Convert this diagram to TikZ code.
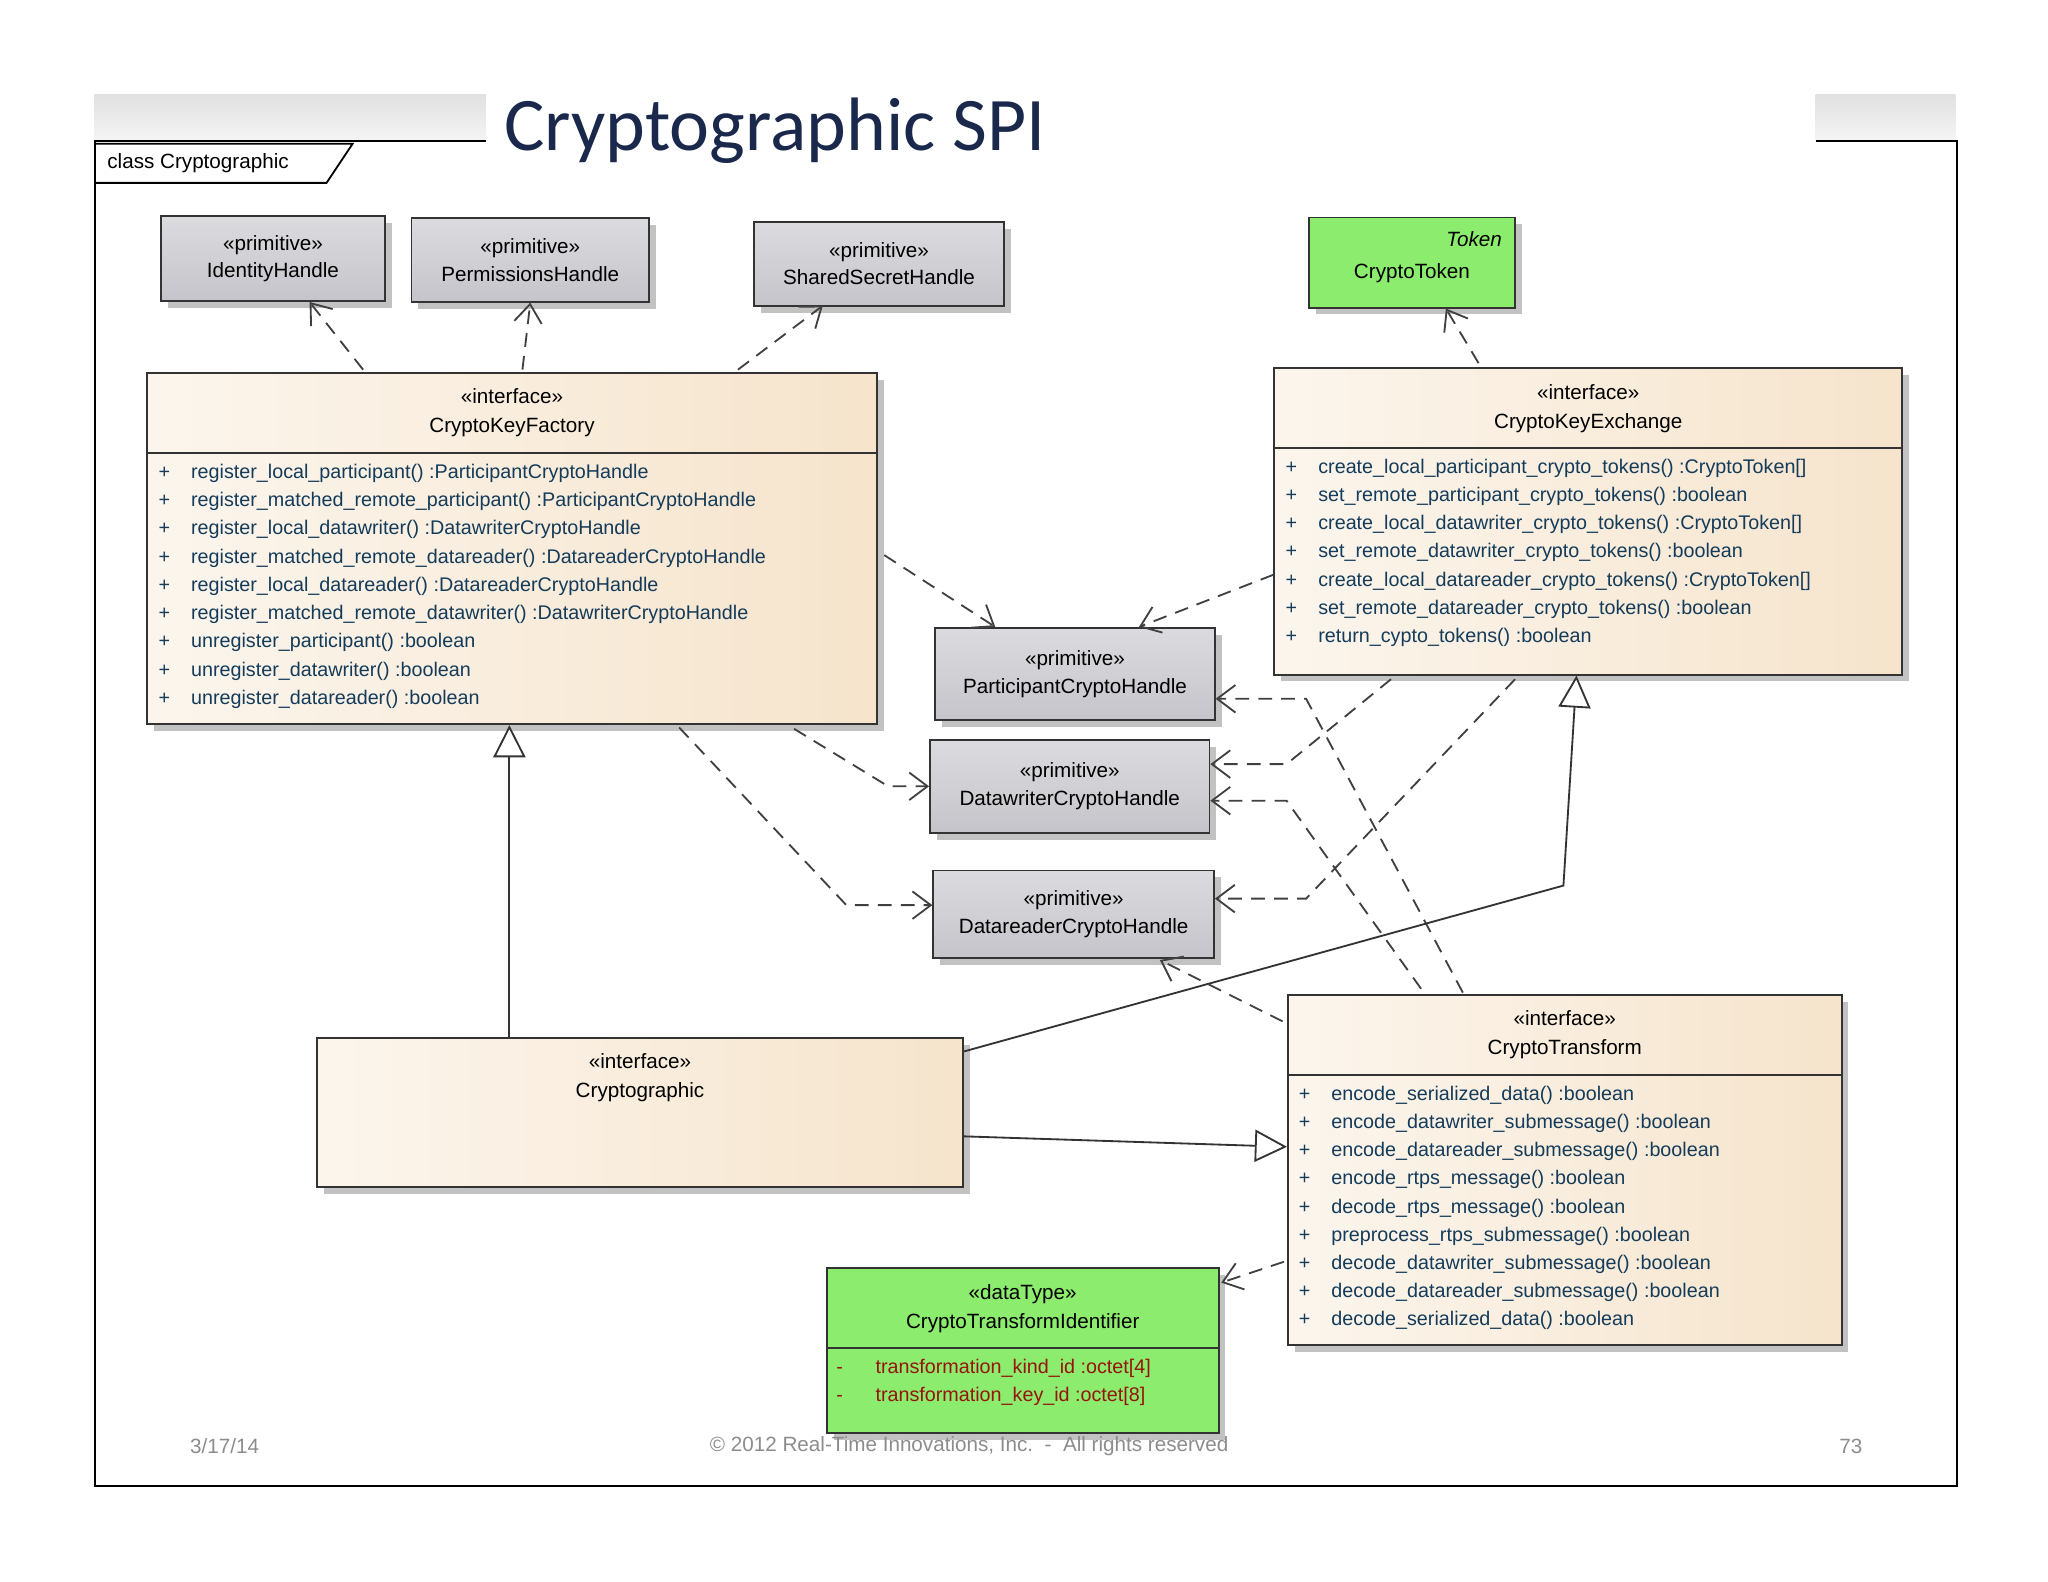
\documentclass[tikz,border=0pt]{standalone}
\usepackage{fontspec}
\setmainfont{Liberation Sans}
\newfontfamily\titlefont{Carlito}
\usetikzlibrary{arrows.meta,shadows}
\definecolor{umlcream}{RGB}{246,228,204}
\definecolor{umlgray}{RGB}{196,196,202}
\definecolor{umlgreen}{RGB}{140,236,110}
\definecolor{optext}{RGB}{20,60,90}
\definecolor{attrtext}{RGB}{150,20,10}
\definecolor{titleblue}{RGB}{25,40,75}
\newcommand{\op}[1]{\makebox[0.5cm][l]{+}#1}
\newcommand{\attr}[1]{\makebox[0.6cm][l]{-}#1}
\begin{document}
\begin{tikzpicture}[x=0.02cm,y=-0.02cm,
    shd/.style={drop shadow={shadow xshift=3pt, shadow yshift=-3pt, fill=black!40, opacity=0.6}},
    cls/.style={rectangle, draw=black!80, thick, shd, left color=umlcream!35!white, right color=umlcream},
    prim/.style={rectangle, draw=black!80, thick, shd, top color=umlgray!60!white, bottom color=umlgray, align=center, font=\fontsize{9}{12}\selectfont},
    grn/.style={rectangle, draw=black!80, thick, shd, fill=umlgreen},
    hdr/.style={align=center, font=\fontsize{9}{12.5}\selectfont},
    ops/.style={anchor=north west, align=left, inner sep=0pt, text=optext, font=\fontsize{8.6}{12.3}\selectfont},
    dep/.style={draw=black!75, thick, dash pattern=on 6pt off 4pt, -{Straight Barb[length=8pt,width=12pt]}},
    gen/.style={draw=black!80, thick, -{Triangle[open,length=14pt,width=14pt,fill=white]}},
    foot/.style={text=black!45, font=\fontsize{9}{11}\selectfont},
  ]
  \useasboundingbox (0,0) rectangle (1568,1211);

  % frame and title
  \fill[top color=black!12, bottom color=black!4] (72,72) rectangle (372,108);
  \fill[top color=black!12, bottom color=black!4] (1390,72) rectangle (1497,108);
  \draw[thick] (372,108) -- (73,108) -- (73,1138) -- (1498,1138) -- (1498,108) -- (1390,108);
  \draw[thick] (73,110) -- (270,110) -- (250,140) -- (73,140);
  \node[anchor=west, font=\fontsize{9}{11}\selectfont] (frm) at (76,125) {class Cryptographic};
  \node[anchor=west, text=titleblue, font=\titlefont\fontsize{33}{38}\selectfont] (ttl) at (380,100) {Cryptographic SPI};

  % primitives at the top
  \node[prim, minimum width=3.44cm, minimum height=1.3cm] (idh) at (209,198) {«primitive»\\IdentityHandle};
  \node[prim, minimum width=3.64cm, minimum height=1.28cm] (permh) at (406,199) {«primitive»\\PermissionsHandle};
  \node[prim, minimum width=3.84cm, minimum height=1.28cm] (ssh) at (673,202) {«primitive»\\SharedSecretHandle};
  \node[grn, minimum width=3.16cm, minimum height=1.38cm] (tok) at (1081,201) {};
  \node[anchor=north east, font=\itshape\fontsize{9}{11}\selectfont] (tokl) at (1156,171) {Token};
  \node[font=\fontsize{9}{11}\selectfont] (tokn) at (1081,209) {CryptoToken};

  % CryptoKeyFactory
  \node[cls, minimum width=11.18cm, minimum height=5.38cm] (ckf) at (392,420) {};
  \draw[black!80, thick] (113,347) -- (672,347);
  \node[hdr] (ckfh) at (392,316) {«interface»\\CryptoKeyFactory};
  \node[ops] (ckfo) at (121,355) {\op{register\_local\_participant() :ParticipantCryptoHandle}\\
    \op{register\_matched\_remote\_participant() :ParticipantCryptoHandle}\\
    \op{register\_local\_datawriter() :DatawriterCryptoHandle}\\
    \op{register\_matched\_remote\_datareader() :DatareaderCryptoHandle}\\
    \op{register\_local\_datareader() :DatareaderCryptoHandle}\\
    \op{register\_matched\_remote\_datawriter() :DatawriterCryptoHandle}\\
    \op{unregister\_participant() :boolean}\\
    \op{unregister\_datawriter() :boolean}\\
    \op{unregister\_datareader() :boolean}};

  % CryptoKeyExchange
  \node[cls, minimum width=9.62cm, minimum height=4.70cm] (cke) at (1216,399) {};
  \draw[black!80, thick] (976,343) -- (1457,343);
  \node[hdr] (ckeh) at (1216,313) {«interface»\\CryptoKeyExchange};
  \node[ops] (ckeo) at (984,351) {\op{create\_local\_participant\_crypto\_tokens() :CryptoToken[]}\\
    \op{set\_remote\_participant\_crypto\_tokens() :boolean}\\
    \op{create\_local\_datawriter\_crypto\_tokens() :CryptoToken[]}\\
    \op{set\_remote\_datawriter\_crypto\_tokens() :boolean}\\
    \op{create\_local\_datareader\_crypto\_tokens() :CryptoToken[]}\\
    \op{set\_remote\_datareader\_crypto\_tokens() :boolean}\\
    \op{return\_cypto\_tokens() :boolean}};

  % handles in the middle
  \node[prim, minimum width=4.28cm, minimum height=1.42cm] (pch) at (823,516) {«primitive»\\ParticipantCryptoHandle};
  \node[prim, minimum width=4.28cm, minimum height=1.42cm] (dwch) at (819,602) {«primitive»\\DatawriterCryptoHandle};
  \node[prim, minimum width=4.30cm, minimum height=1.34cm] (drch) at (822,700) {«primitive»\\DatareaderCryptoHandle};

  % Cryptographic
  \node[cls, minimum width=9.90cm, minimum height=2.28cm] (crypt) at (490,852) {};
  \node[hdr] (crypth) at (490,825) {«interface»\\Cryptographic};

  % CryptoTransform
  \node[cls, minimum width=8.48cm, minimum height=5.36cm] (ct) at (1198,896) {};
  \draw[black!80, thick] (986,823) -- (1410,823);
  \node[hdr] (cth) at (1198,792) {«interface»\\CryptoTransform};
  \node[ops] (cto) at (994,831) {\op{encode\_serialized\_data() :boolean}\\
    \op{encode\_datawriter\_submessage() :boolean}\\
    \op{encode\_datareader\_submessage() :boolean}\\
    \op{encode\_rtps\_message() :boolean}\\
    \op{decode\_rtps\_message() :boolean}\\
    \op{preprocess\_rtps\_submessage() :boolean}\\
    \op{decode\_datawriter\_submessage() :boolean}\\
    \op{decode\_datareader\_submessage() :boolean}\\
    \op{decode\_serialized\_data() :boolean}};

  % CryptoTransformIdentifier
  \node[grn, minimum width=6.0cm, minimum height=2.52cm] (cti) at (783,1034) {};
  \draw[black!80, thick] (633,1032) -- (933,1032);
  \node[hdr] (ctih) at (783,1002) {«dataType»\\CryptoTransformIdentifier};
  \node[ops, text=attrtext] (ctio) at (640,1040) {\attr{transformation\_kind\_id :octet[4]}\\
    \attr{transformation\_key\_id :octet[8]}};

  % dependencies
  \draw[dep] (278,283) -- (idh.south -| 237,0);
  \draw[dep] (400,283) -- (permh.south);
  \draw[dep] (565,283) -- (630,234);
  \draw[dep] (1132,278) -- (tok.south -| 1107,0);
  \draw[dep] (677,425) -- (762,480);
  \draw[dep] (975,440) -- (872,480);
  \draw[dep] (608,558) -- (680,602) -- (dwch.west);
  \draw[dep] (520,557) -- (648,693) -- (drch.west |- 0,693);
  \draw[dep] (1065,520) -- (985,585) -- (dwch.east |- 0,585);
  \draw[dep] (1160,520) -- (1000,688) -- (drch.east |- 0,688);
  \draw[dep] (1120,760) -- (1000,535) -- (pch.east |- 0,535);
  \draw[dep] (1088,757) -- (985,613) -- (dwch.east |- 0,613);
  \draw[dep] (982,782) -- (888,735);
  \draw[dep] (983,966) -- (935,982);

  % generalizations
  \draw[gen] (crypt.north -| 390,0) -- (ckf.south -| 390,0);
  \draw[gen] (738,805) -- (1197,678) -- (cke.south -| 1207,0);
  \draw[gen] (738,870) -- (ct.west |- 0,878);

  % footer
  \node[foot] (fdate) at (172,1107) {3/17/14};
  \node[foot] (fcopy) at (742,1107) {© 2012 Real-Time Innovations, Inc.~~-~~All rights reserved};
  \node[foot] (fpage) at (1417,1107) {73};
\end{tikzpicture}
\end{document}
